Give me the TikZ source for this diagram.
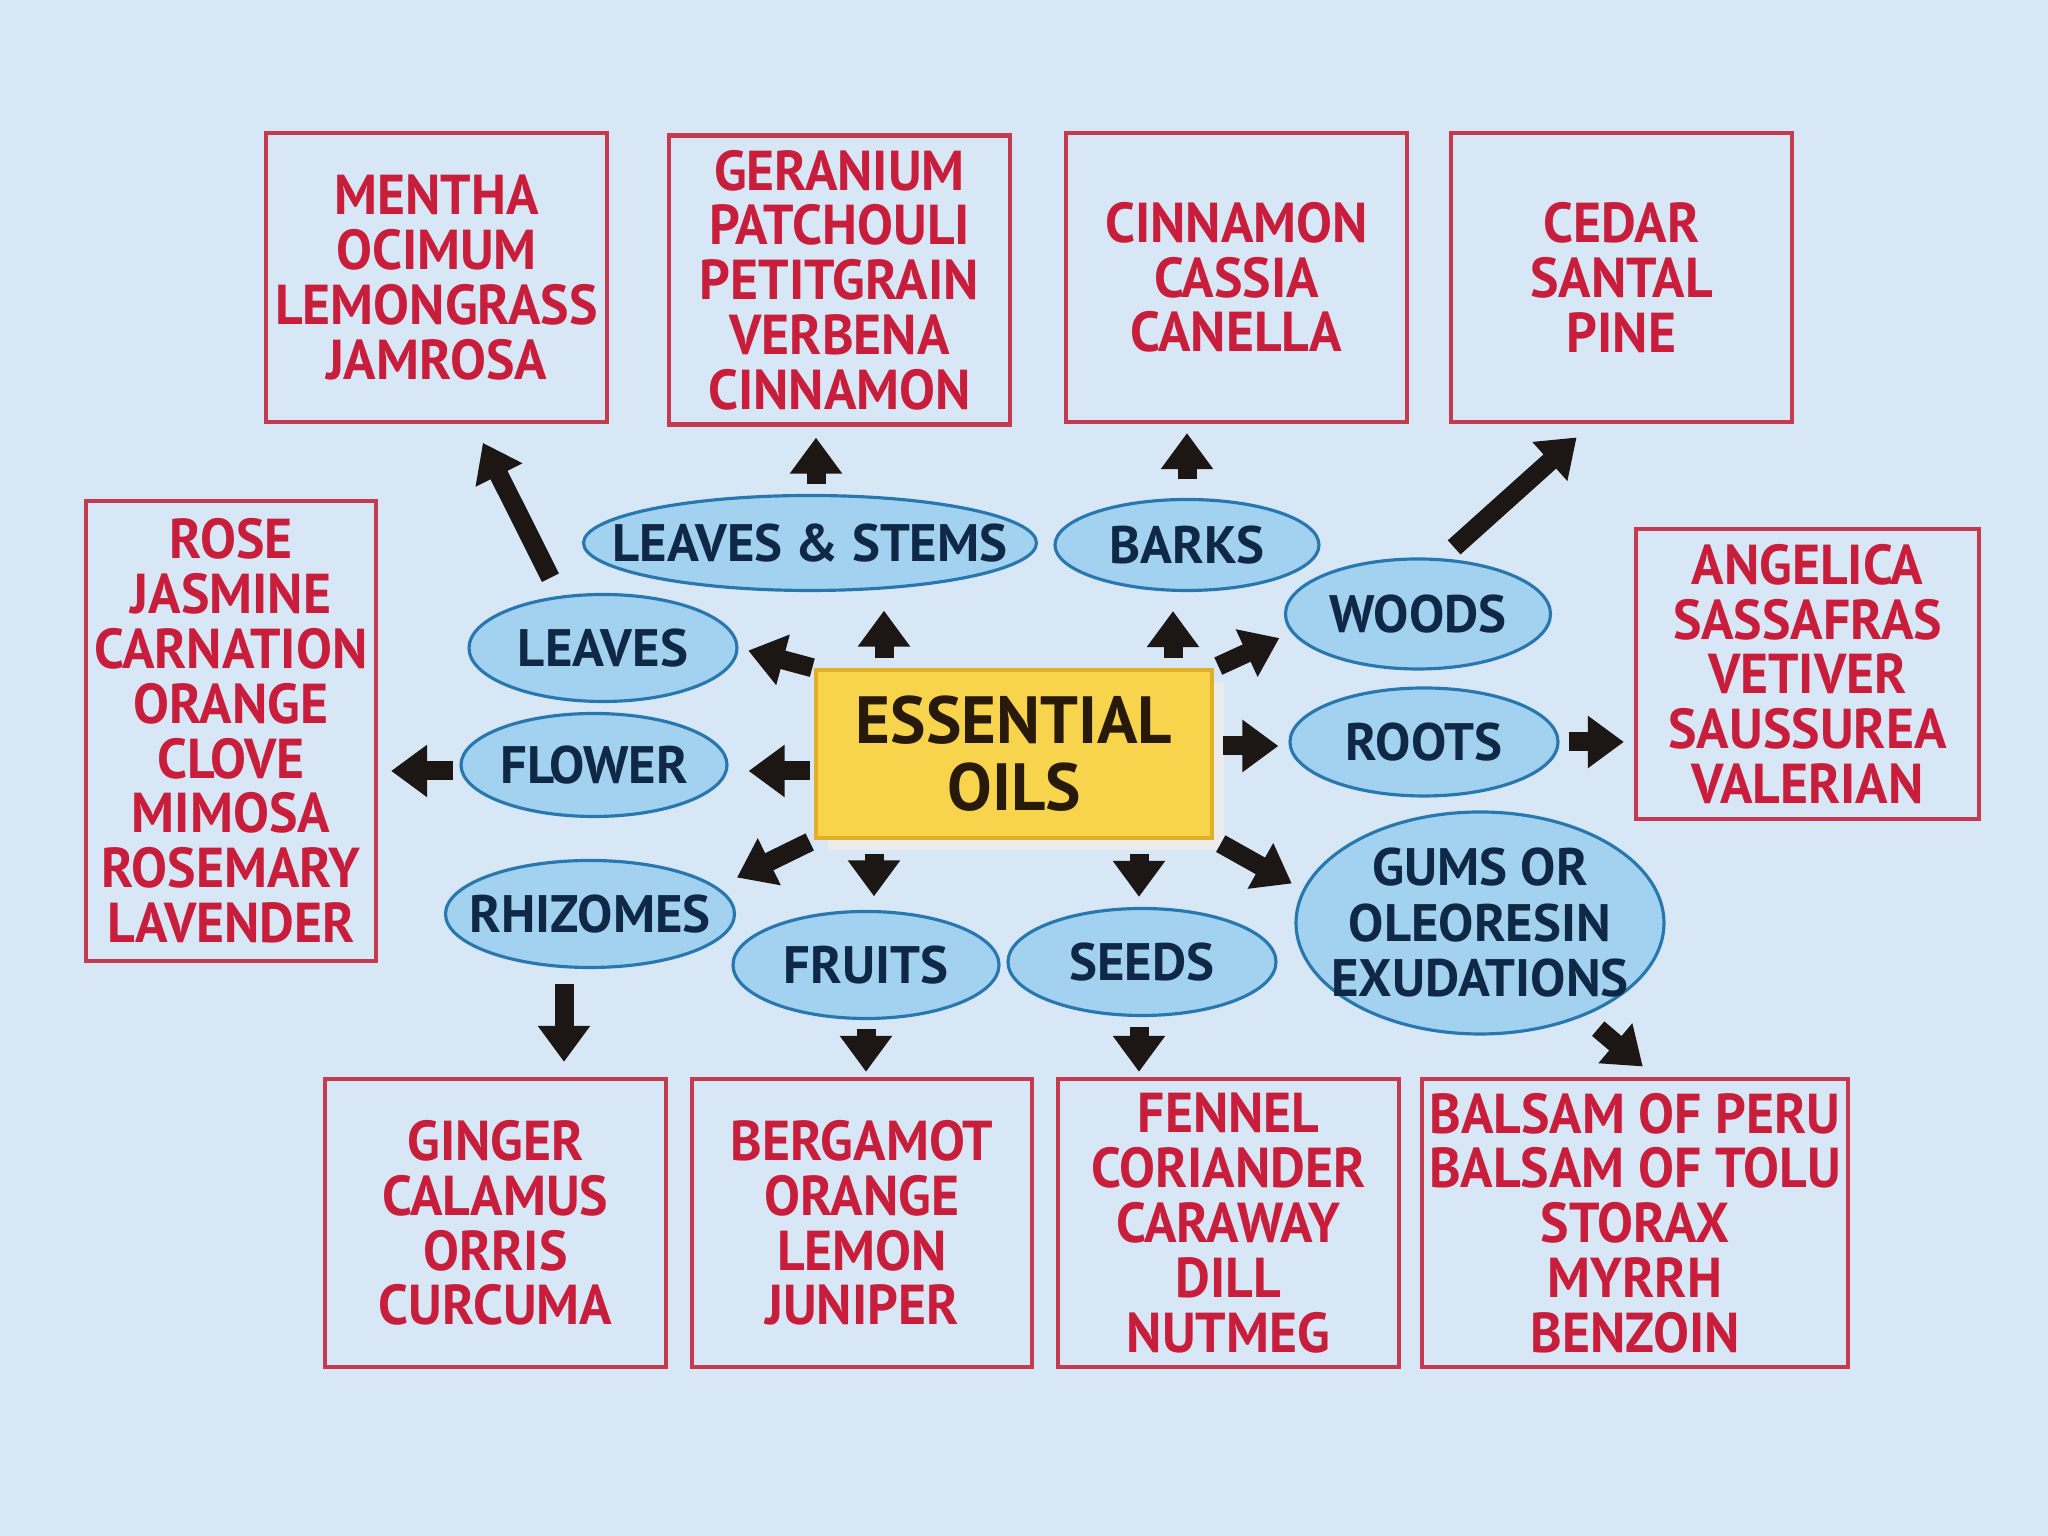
\documentclass[tikz,border=0pt]{standalone}
\usepackage{fontspec}
\setmainfont{PT Sans}
\newfontfamily\oilfont{PT Sans}[FakeStretch=0.955]
\usetikzlibrary{arrows.meta,shapes.geometric,shadows}

\definecolor{paper}{RGB}{216,231,246}
\definecolor{boxred}{RGB}{198,58,80}
\definecolor{oilred}{RGB}{200,30,60}
\definecolor{partfill}{RGB}{162,210,240}
\definecolor{partline}{RGB}{40,120,175}
\definecolor{partink}{RGB}{15,40,70}
\definecolor{coreyellow}{RGB}{248,212,76}
\definecolor{coreedge}{RGB}{225,175,40}
\definecolor{coreink}{RGB}{40,26,10}
\definecolor{ink}{RGB}{28,22,20}

\begin{document}
\begin{tikzpicture}[
    oil/.style={draw=boxred, line width=1.2pt, minimum width=3.41cm, minimum height=2.89cm, inner xsep=1pt,
        align=center, text=oilred, font=\oilfont\fontsize{16}{15.6}\selectfont\bfseries},
    part/.style={ellipse, draw=partline, fill=partfill, line width=0.9pt, inner xsep=-2cm, inner ysep=-1cm,
        align=center, text=partink, font=\fontsize{15}{15.8}\selectfont\bfseries},
    fat/.style={-{Triangle[length=0.36cm,width=0.5cm]}, line width=0.19cm, draw=ink,
        shorten <=0.1cm, shorten >=0.12cm}
]
    \fill[paper] (0,0) rectangle (20.48,15.36);
    \useasboundingbox (0,0) rectangle (20.48,15.36);

    % Centre
    \node[draw=coreedge, fill=coreyellow, line width=1pt, minimum width=3.96cm, minimum height=1.68cm,
        align=center, text=coreink, font=\fontsize{19}{19}\selectfont\bfseries,
        drop shadow={shadow xshift=0.12cm, shadow yshift=-0.12cm, fill=white!85!gray, opacity=1}]
        (core) at (10.14, 7.82) {ESSENTIAL\\OILS};

    % Parties de la plante
    \node[part, minimum width=4.53cm, minimum height=0.95cm] (stems) at (8.10, 9.93) {LEAVES \& STEMS};
    \node[part, minimum width=2.64cm, minimum height=0.91cm] (barks) at (11.87, 9.91) {BARKS};
    \node[part, minimum width=2.68cm, minimum height=1.07cm] (leaves) at (6.03, 8.88) {LEAVES};
    \node[part, minimum width=2.65cm, minimum height=1.10cm] (woods) at (14.18, 9.22) {WOODS};
    \node[part, minimum width=2.66cm, minimum height=1.03cm] (flower) at (5.94, 7.71) {FLOWER};
    \node[part, minimum width=2.68cm, minimum height=1.08cm] (roots) at (14.24, 7.94) {ROOTS};
    \node[part, minimum width=2.89cm, minimum height=1.07cm] (rhizomes) at (5.90, 6.22) {RHIZOMES};
    \node[part, minimum width=2.66cm, minimum height=1.07cm] (fruits) at (8.66, 5.71) {FRUITS};
    \node[part, minimum width=2.68cm, minimum height=1.07cm] (seeds) at (11.42, 5.74) {SEEDS};
    \node[part, minimum width=3.68cm, minimum height=2.22cm] (gums) at (14.80, 6.13) {GUMS OR\\OLEORESIN\\EXUDATIONS};

    % Huiles
    \node[oil] (mentha) at (4.365, 12.585) {MENTHA\\OCIMUM\\LEMONGRASS\\JAMROSA};
    \node[oil] (geranium) at (8.395, 12.56) {GERANIUM\\PATCHOULI\\PETITGRAIN\\VERBENA\\CINNAMON};
    \node[oil] (cinnamon) at (12.365, 12.585) {CINNAMON\\CASSIA\\CANELLA};
    \node[oil] (cedar) at (16.215, 12.585) {CEDAR\\SANTAL\\PINE};
    \node[oil, minimum width=2.90cm, minimum height=4.60cm] (rose) at (2.31, 8.05)
        {ROSE\\JASMINE\\CARNATION\\ORANGE\\CLOVE\\MIMOSA\\ROSEMARY\\LAVENDER};
    \node[oil, minimum width=3.43cm, minimum height=2.90cm] (angelica) at (18.075, 8.62)
        {ANGELICA\\SASSAFRAS\\VETIVER\\SAUSSUREA\\VALERIAN};
    \node[oil, minimum height=2.88cm] (ginger) at (4.955, 3.13) {GINGER\\CALAMUS\\ORRIS\\CURCUMA};
    \node[oil, minimum width=3.40cm, minimum height=2.88cm] (bergamot) at (8.62, 3.13) {BERGAMOT\\ORANGE\\LEMON\\JUNIPER};
    \node[oil, minimum height=2.88cm] (fennel) at (12.285, 3.13) {FENNEL\\CORIANDER\\CARAWAY\\DILL\\NUTMEG};
    \node[oil, minimum width=4.26cm, minimum height=2.88cm] (balsam) at (16.35, 3.13)
        {BALSAM OF PERU\\BALSAM OF TOLU\\STORAX\\MYRRH\\BENZOIN};

    % Du centre vers les parties
    \draw[fat, shorten >=0.185cm] ([xshift=-1.30cm]core.north) -- ([xshift=-1.30cm]core.north |- stems.south);
    \draw[fat, shorten >=0.19cm] ([xshift=1.59cm]core.north) -- ([xshift=1.59cm]core.north |- barks.south);
    \draw[fat, shorten <=0.02cm, shorten >=0.1cm] (core.north west) -- (leaves.east);
    \draw[fat, shorten <=0.05cm, shorten >=0.05cm] (core.north east) -- ([yshift=-0.22cm]woods.west);
    \draw[fat, shorten <=0.04cm, shorten >=0.2cm] ([yshift=-0.17cm]core.west) -- ([yshift=-0.17cm]core.west -| flower.east);
    \draw[fat, shorten <=0.09cm, shorten >=0.1cm] ([yshift=0.08cm]core.east) -- ([yshift=0.08cm]core.east -| roots.west);
    \draw[fat, shorten <=0.05cm, shorten >=0.01cm] (core.south west) -- ([yshift=0.36cm]rhizomes.east);
    \draw[fat, shorten <=0.14cm, shorten >=0.135cm] ([xshift=-1.40cm]core.south) -- ([xshift=-1.40cm]core.south |- fruits.north);
    \draw[fat, shorten <=0.14cm, shorten >=0.1cm] ([xshift=1.25cm]core.south) -- ([xshift=1.25cm]core.south |- seeds.north);
    \draw[fat, shorten <=0.08cm, shorten >=0.03cm] (core.south east) -- ([yshift=0.38cm]gums.west);

    % Des parties vers les huiles
    \draw[fat, shorten <=0.095cm, shorten >=0.11cm] ([xshift=0.06cm]stems.north) -- ([xshift=0.06cm]stems.north |- geranium.south);
    \draw[fat, shorten <=0.185cm, shorten >=0.09cm] (barks.north) -- (barks.north |- cinnamon.south);
    \draw[fat, shorten <=0.17cm, shorten >=0.21cm] ([xshift=-0.45cm]leaves.north) -- ([xshift=0.37cm]mentha.south);
    \draw[fat, shorten <=0.15cm, shorten >=0.2cm] ([xshift=0.25cm]woods.north) -- ([xshift=-0.3cm]cedar.south);
    \draw[fat, shorten <=0.09cm, shorten >=0.1cm] (roots.east) -- (roots.east -| angelica.west);
    \draw[fat, shorten <=0.06cm, shorten >=0.13cm] ([yshift=-0.06cm]flower.west) -- ([yshift=-0.06cm]flower.west -| rose.east);
    \draw[fat, shorten <=0.145cm, shorten >=0.15cm] ([xshift=-0.26cm]rhizomes.south) -- ([xshift=-0.26cm]rhizomes.south |- ginger.north);
    \draw[fat, shorten <=0.085cm, shorten >=0.05cm] (fruits.south) -- (fruits.south |- bergamot.north);
    \draw[fat, shorten <=0.095cm, shorten >=0.05cm] ([xshift=-0.03cm]seeds.south) -- ([xshift=-0.03cm]seeds.south |- fennel.north);
    \draw[fat, shorten <=0.19cm, shorten >=0.16cm] (gums.-42) -- ([xshift=0.2cm]balsam.north);
\end{tikzpicture}
\end{document}
